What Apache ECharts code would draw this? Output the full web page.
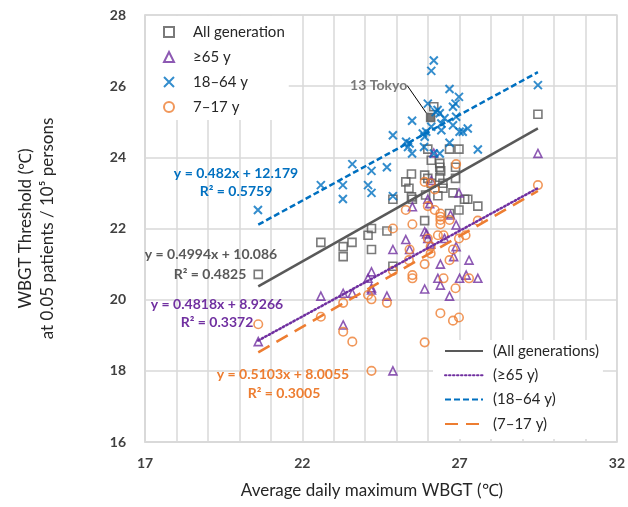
<!DOCTYPE html>
<html>
<head>
<meta charset="utf-8">
<script src="https://cdn.jsdelivr.net/npm/echarts@6/dist/echarts.min.js"></script>
<style>
  html, body { margin: 0; padding: 0; background: #fff; }
  #chart { width: 628px; height: 507px; }
</style>
</head>
<body>
<div id="chart"></div>
<script>
// Prefecture-level points: [average daily maximum WBGT, WBGT threshold]
const allGeneration = [
  [20.6,20.71],[22.59,21.61],[23.3,21.49],[23.3,21.21],[23.58,21.61],[24.09,21.81],[24.2,22.0],
  [24.2,21.41],[24.69,21.93],[24.88,22.82],[24.88,20.94],[25.29,23.31],[25.39,23.13],[25.47,23.53],
  [25.47,22.89],[25.5,22.82],[25.89,23.5],[25.99,23.41],[26.1,23.92],[25.89,22.22],[25.92,22.94],
  [26.1,23.27],[26.37,23.83],[26.37,23.72],[26.4,23.62],[26.37,23.44],[26.47,23.27],[26.47,23.13],
  [26.31,22.92],[26.87,23.72],[26.87,23.41],[26.79,23.0],[27.16,22.82],[27.26,22.82],[26.98,22.52],
  [26.68,22.42],[27.58,22.63],[25.99,24.23],[26.68,24.23],[26.98,24.23],[26.18,25.42],[29.49,25.21]
];
const tokyo = [26.08, 25.12];

const aged65 = [
  [20.6,18.82],[22.59,20.1],[23.3,20.18],[23.59,20.18],[23.3,19.29],[24.2,20.27],[24.09,20.6],
  [24.2,20.78],[24.2,20.33],[24.69,20.1],[24.88,18.0],[25.89,20.3],[26.68,20.1],[25.5,22.61],
  [26.1,23.35],[26.18,24.12],[25.99,22.82],[26.05,22.7],[26.98,23.0],[26.89,22.1],[26.71,22.38],
  [25.89,21.91],[25.95,21.85],[25.99,21.72],[25.29,21.69],[24.88,21.41],[25.41,21.41],[26.08,21.56],
  [26.52,21.72],[26.89,21.49],[26.81,21.21],[27.3,21.11],[26.39,21.0],[27.21,20.69],[27.0,20.6],
  [27.58,20.6],[26.31,20.6],[26.39,20.41],[29.49,24.11]
];

const aged18to64 = [
  [20.59,22.52],[22.59,23.22],[23.59,23.81],[23.29,23.22],[23.29,22.83],[24.2,23.62],[24.09,23.22],
  [24.2,23.0],[24.88,22.91],[24.69,23.72],[24.88,24.62],[25.3,24.44],[25.41,24.39],[25.36,24.29],
  [25.49,24.11],[25.49,25.03],[25.83,24.67],[25.89,24.58],[25.94,24.72],[25.87,24.29],[25.99,25.51],
  [26.1,26.43],[26.18,26.72],[26.1,24.86],[26.42,24.95],[26.3,25.33],[26.37,25.24],[26.37,24.11],
  [26.68,25.92],[26.79,25.42],[26.87,25.51],[26.98,25.7],[26.79,24.9],[26.89,25.14],[26.68,24.41],
  [27.0,24.72],[27.1,24.72],[27.26,24.81],[27.58,24.22],[29.49,26.03],[26.42,24.76],[26.52,25.1],
  [26.24,25.27],[26.18,24.11]
];

const aged7to17 = [
  [20.6,19.31],[22.59,19.52],[23.3,19.91],[23.3,19.1],[23.59,18.82],[24.2,18.0],[24.09,20.13],
  [24.2,20.01],[24.69,19.91],[26.39,19.62],[26.79,19.41],[26.98,19.5],[25.89,18.8],[26.89,23.81],
  [25.89,23.31],[26.08,23.27],[26.21,23.1],[25.29,22.52],[25.99,22.63],[26.21,22.52],[26.39,22.42],
  [26.39,22.33],[26.39,22.24],[26.39,22.12],[26.68,22.24],[25.5,22.12],[24.88,22.0],[27.58,22.22],
  [29.49,23.22],[25.99,21.72],[26.31,21.81],[26.49,21.81],[26.98,21.72],[27.19,21.81],[26.08,21.49],
  [25.41,21.41],[26.79,21.41],[26.08,21.3],[25.39,21.11],[25.89,21.0],[26.68,21.11],[24.88,20.81],
  [25.5,20.69],[25.5,20.6],[26.49,20.6],[27.3,20.6],[26.87,20.32]
];

// Linear fits [slope, intercept] and their R²
const fitAll = [0.4994, 10.086], r2All = 0.4825;
const fit65 = [0.4818, 8.9266], r265 = 0.3372;
const fit18to64 = [0.482, 12.179], r218to64 = 0.5759;
const fit7to17 = [0.5103, 8.0055], r27to17 = 0.3005;

const xTickLabels = [17, 22, 27, 32];

const FONT = 'Lato, "Open Sans", sans-serif';
const C_ALL = '#595959', C_65 = '#7030A0', C_ADULT = '#0070C0', C_CHILD = '#ED7D31';

const allX = allGeneration.map(p => p[0]).concat([tokyo[0]]);
const xLo = Math.min(...allX), xHi = Math.max(...allX);
const fitLine = f => [[xLo, f[0] * xLo + f[1]], [xHi, f[0] * xHi + f[1]]];
const eq = f => 'y = ' + f[0] + 'x + ' + f[1].toFixed(f[1] < 10 ? 4 : 3);

const hollow = color => ({ color: 'rgba(0,0,0,0)', borderColor: color, borderWidth: 1.6 });

const chart = echarts.init(document.getElementById('chart'), null, { renderer: 'canvas' });

const eqLabel = (text, cx, cy, color) => ({
  type: 'text', x: cx, y: cy, z: 100,
  style: { text, fill: color, font: 'bold 14px ' + FONT, textAlign: 'center', textVerticalAlign: 'middle' }
});

chart.setOption({
  animation: false,
  backgroundColor: '#fff',
  grid: { left: 145, right: 10, top: 15, bottom: 65, show: true, borderColor: '#d9d9d9', borderWidth: 1.5 },
  xAxis: {
    type: 'value', min: 17, max: 32, interval: 1,
    name: 'Average daily maximum WBGT (℃)', nameLocation: 'middle', nameGap: 40,
    nameTextStyle: { fontFamily: FONT, fontSize: 17, color: '#262626', padding: [0, 18, 0, 0] },
    axisLine: { show: true, lineStyle: { color: '#d9d9d9', width: 1.5 } },
    axisTick: { show: false },
    splitLine: { show: true, lineStyle: { color: '#d9d9d9', width: 1.5 } },
    axisLabel: {
      margin: 14, fontFamily: FONT, fontSize: 14, fontWeight: 'bold', color: '#404040',
      formatter: v => (xTickLabels.includes(v) ? String(v) : '')
    }
  },
  yAxis: {
    type: 'value', min: 16, max: 28, interval: 2,
    name: 'WBGT Threshold (℃)\nat 0.05 patients / 10⁵ persons',
    nameLocation: 'middle', nameGap: 86, nameRotate: 90,
    nameTextStyle: { fontFamily: FONT, fontSize: 17, color: '#262626', lineHeight: 22 },
    axisLine: { show: true, lineStyle: { color: '#d9d9d9', width: 1.5 } },
    axisTick: { show: false },
    splitLine: { show: true, lineStyle: { color: '#d9d9d9', width: 1.5 } },
    axisLabel: { margin: 19, fontFamily: FONT, fontSize: 14, fontWeight: 'bold', color: '#404040' }
  },
  legend: [
    {
      data: ['All generation', '≥65 y', '18–64 y', '7–17 y'],
      orient: 'vertical', left: 146, top: 16,
      padding: [7, 4, 4, 17], backgroundColor: '#fff', z: 10,
      itemWidth: 10, itemHeight: 10, itemGap: 7,
      textStyle: { fontFamily: FONT, fontSize: 15, color: '#262626', lineHeight: 18, padding: [0, 0, 0, 14] }
    },
    {
      data: ['(All generations)', '(≥65 y)', '(18–64 y)', '(7–17 y)'],
      orient: 'vertical', left: 433, top: 340,
      padding: [2, 4, 6, 11], backgroundColor: '#fff', z: 10,
      itemWidth: 38, itemHeight: 10, itemGap: 6.3,
      itemStyle: { color: 'rgba(0,0,0,0)', borderColor: 'rgba(0,0,0,0)', borderWidth: 0, opacity: 0 },
      lineStyle: { width: 2 },
      textStyle: { fontFamily: FONT, fontSize: 15, color: '#262626', lineHeight: 18, padding: [0, 0, 0, 5] }
    }
  ],
  series: [
    {
      name: 'All generation', type: 'scatter', symbol: 'rect', symbolSize: 8, z: 3,
      itemStyle: hollow(C_ALL),
      data: allGeneration.map(p => ({ value: p })).concat([{
        value: tokyo,
        itemStyle: { color: C_ALL, borderColor: C_ALL },
        label: {
          show: true, formatter: '13 Tokyo', position: 'inside',
          fontFamily: FONT, fontSize: 14, fontWeight: 'bold', color: '#595959'
        }
      }]),
      labelLayout: { dx: -52, dy: -32 },
      labelLine: { show: true, lineStyle: { color: '#000', width: 1 } }
    },
    {
      name: '≥65 y', type: 'scatter', symbol: 'triangle', symbolSize: 8, z: 3,
      itemStyle: hollow(C_65), data: aged65
    },
    {
      name: '18–64 y', type: 'scatter', symbol: 'path://M0,0L10,10M10,0L0,10', symbolSize: 8, z: 3,
      itemStyle: { color: 'rgba(0,0,0,0)', borderColor: C_ADULT, borderWidth: 2 }, data: aged18to64
    },
    {
      name: '7–17 y', type: 'scatter', symbol: 'circle', symbolSize: 8.5, z: 3,
      itemStyle: hollow(C_CHILD), data: aged7to17
    },
    {
      name: '(All generations)', type: 'line', symbol: 'none', z: 4, data: fitLine(fitAll),
      lineStyle: { color: C_ALL, width: 2.5, type: 'solid' }, itemStyle: { color: C_ALL }
    },
    {
      name: '(≥65 y)', type: 'line', symbol: 'none', z: 4, data: fitLine(fit65),
      lineStyle: { color: C_65, width: 2.5, type: [1.5, 2.5], cap: 'round' }, itemStyle: { color: C_65 }
    },
    {
      name: '(18–64 y)', type: 'line', symbol: 'none', z: 4, data: fitLine(fit18to64),
      lineStyle: { color: C_ADULT, width: 2.5, type: [6, 3] }, itemStyle: { color: C_ADULT }
    },
    {
      name: '(7–17 y)', type: 'line', symbol: 'none', z: 4, data: fitLine(fit7to17),
      lineStyle: { color: C_CHILD, width: 2.5, type: [13, 8] }, itemStyle: { color: C_CHILD }
    }
  ],
  graphic: [
    eqLabel(eq(fit18to64), 236, 173, C_ADULT),
    eqLabel('R² = ' + r218to64, 236, 191, C_ADULT),
    eqLabel(eq(fitAll), 211, 254, C_ALL),
    eqLabel('R² = ' + r2All, 210, 274, C_ALL),
    eqLabel(eq(fit65), 217, 304, C_65),
    eqLabel('R² = ' + r265, 217, 322, C_65),
    eqLabel(eq(fit7to17), 283, 374, C_CHILD),
    eqLabel('R² = ' + r27to17, 284, 393, C_CHILD)
  ]
});
</script>
</body>
</html>
